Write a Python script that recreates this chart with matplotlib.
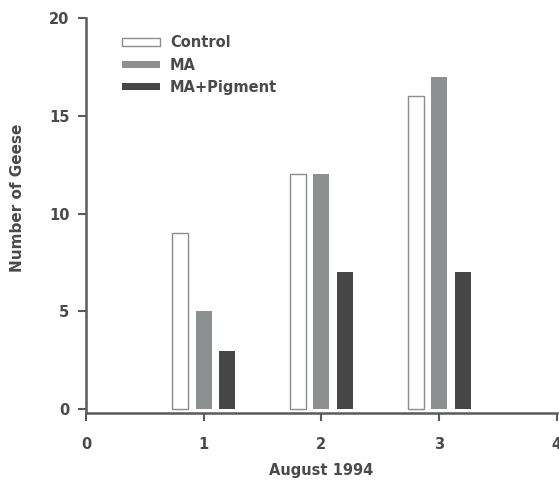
import matplotlib
matplotlib.use("Agg")
import matplotlib.pyplot as plt
import numpy as np

days = [1, 2, 3]
control = [9, 12, 16]
ma = [5, 12, 17]
ma_pigment = [3, 7, 7]

plt.rcParams['font.family'] = ['DejaVu Sans']
plt.rcParams['font.weight'] = 'bold'
txt = '#4a4a4a'
axc = '#5a5a5a'

fig = plt.figure(figsize=(5.59, 4.86), dpi=100)
ax = fig.add_axes([0.154, 0.150, 0.842, 0.813])

x = np.array(days)
w = 0.135
ax.bar(x - 0.2, control, w, color='white', edgecolor='#8c8c8c', linewidth=1.0, label='Control')
ax.bar(x, ma, w, color='#8c9090', label='MA')
ax.bar(x + 0.2, ma_pigment, w, color='#464646', label='MA+Pigment')

ax.set_xlim(0, 4)
ax.set_ylim(-0.2, 20)
ax.set_xticks([0, 1, 2, 3, 4])
ax.set_yticks([0, 5, 10, 15, 20])

for s in ['top', 'right']:
    ax.spines[s].set_visible(False)
for s in ['left', 'bottom']:
    ax.spines[s].set_color(axc)
    ax.spines[s].set_linewidth(1.8)

ax.tick_params(axis='y', colors=axc, labelcolor=txt, labelsize=10.5, length=6, width=1.5, pad=6)
ax.tick_params(axis='x', colors=axc, labelcolor=txt, labelsize=10.5, length=6, width=1.5, pad=11)

ax.set_ylabel('Number of Geese', color=txt, fontsize=11, fontweight='bold')
ax.yaxis.set_label_coords(-0.13, 0.544)
ax.set_xlabel('August 1994', color=txt, fontsize=10.5, fontweight='bold', labelpad=8)

leg = ax.legend(loc='upper left', bbox_to_anchor=(0.076, 0.956), frameon=False,
                fontsize=10.5, handlelength=2.6, handleheight=0.4, labelspacing=0.5,
                handletextpad=0.7, borderpad=0, borderaxespad=0)
for t in leg.get_texts():
    t.set_color(txt)

fig.savefig('out.png', dpi=100)
